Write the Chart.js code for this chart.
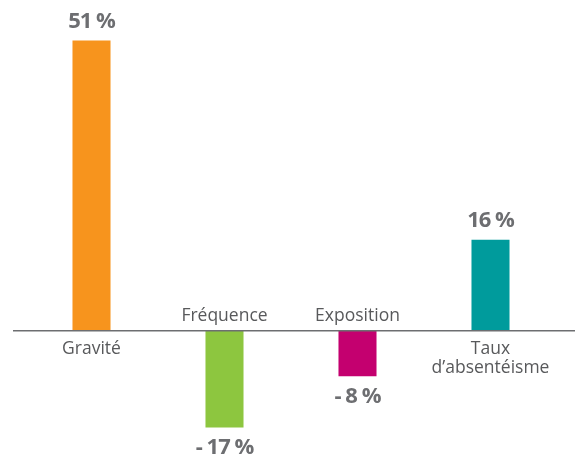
<!DOCTYPE html>
<html>
<head>
<meta charset="utf-8">
<script src="https://cdn.jsdelivr.net/npm/chart.js@4"></script>
<style>
  html, body { margin: 0; padding: 0; background: #fff; }
  #wrap { width: 575px; height: 459px; }
</style>
</head>
<body>
<div id="wrap"><canvas id="chart"></canvas></div>
<script>
const categories = [['Gravité'], ['Fréquence'], ['Exposition'], ['Taux', 'd\u2019absentéisme']];
const values = [51, -17, -8, 16];
const valueLabels = ['51 %', '- 17 %', '- 8 %', '16 %'];
const colors = ['#F7941D', '#8DC63F', '#C4006F', '#009B9C'];

const textGrey = '#58595B';
const boldGrey = '#6D6E71';

// zero line, category names and value labels
const decorations = {
    id: 'decorations',
    afterDatasetsDraw(chart) {
        const ctx = chart.ctx;
        const y0 = chart.scales.y.getPixelForValue(0);
        const meta = chart.getDatasetMeta(0);

        ctx.save();
        ctx.strokeStyle = '#6D6E71';
        ctx.lineWidth = 1.5;
        ctx.beginPath();
        ctx.moveTo(chart.chartArea.left - 12, y0);
        ctx.lineTo(chart.width, y0);
        ctx.stroke();

        ctx.textAlign = 'center';
        ctx.textBaseline = 'middle';
        meta.data.forEach((bar, i) => {
            const neg = values[i] < 0;
            // category name
            ctx.fillStyle = textGrey;
            ctx.font = '17.5px "Open Sans", sans-serif';
            ctx.letterSpacing = '0px';
            const lines = categories[i];
            lines.forEach((line, j) => {
                const y = neg ? y0 - 15 - (lines.length - 1 - j) * 19 : y0 + 18 + j * 19;
                ctx.fillText(line, bar.x, y);
            });
            // value
            ctx.fillStyle = boldGrey;
            ctx.font = 'bold 22px "Open Sans", sans-serif';
            ctx.letterSpacing = '-1px';
            const vy = neg ? bar.y + 20 : bar.y - 19;
            ctx.fillText(valueLabels[i], bar.x, vy);
        });
        ctx.restore();
    }
};

new Chart(document.getElementById('chart'), {
    type: 'bar',
    data: {
        labels: categories.map(c => c.join(' ')),
        datasets: [{
            data: values,
            backgroundColor: colors,
            borderWidth: 0,
            categoryPercentage: 1,
            barPercentage: 0.286
        }]
    },
    options: {
        responsive: true,
        maintainAspectRatio: false,
        animation: false,
        layout: { padding: { top: 12, bottom: 3, left: 25, right: 18 } },
        plugins: {
            legend: { display: false },
            tooltip: { enabled: false }
        },
        scales: {
            x: { display: false },
            y: { display: false, min: -22, max: 56 }
        }
    },
    plugins: [decorations]
});
</script>
</body>
</html>
